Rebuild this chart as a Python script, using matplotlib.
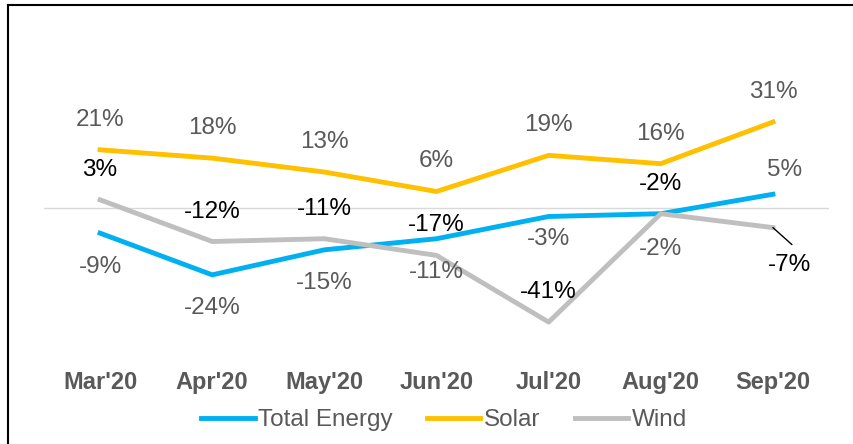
import matplotlib
matplotlib.use('Agg')
import matplotlib.pyplot as plt
from matplotlib.lines import Line2D

plt.rcParams['font.family'] = ['Liberation Sans', 'DejaVu Sans']

months = ["Mar'20", "Apr'20", "May'20", "Jun'20", "Jul'20", "Aug'20", "Sep'20"]
total_energy = [-9, -24, -15, -11, -3, -2, 5]
solar = [21, 18, 13, 6, 19, 16, 31]
wind = [3, -12, -11, -17, -41, -2, -7]

BLUE = '#00B0F0'
GOLD = '#FFC000'
GREY = '#BFBFBF'
TEXT = '#595959'

fig = plt.figure(figsize=(8.54, 4.44), dpi=100)
ax = fig.add_axes([44 / 854, 83 / 444, 785 / 854, 264 / 444])

x = range(len(months))
ax.axhline(0, color='#D9D9D9', lw=1, zorder=0)
ax.plot(x, total_energy, color=BLUE, lw=3.5, label='Total Energy')
ax.plot(x, solar, color=GOLD, lw=3.5, label='Solar')
ax.plot(x, wind, color=GREY, lw=3.5, label='Wind')

ax.set_xlim(-0.5, len(months) - 0.5)
ax.set_ylim(-55, 40)
ax.set_yticks([])
ax.set_xticks(list(x))
ax.set_xticklabels(months, fontsize=17, fontweight='bold', color=TEXT)
ax.tick_params(axis='x', length=0, pad=7)
for s in ax.spines.values():
    s.set_visible(False)

# data labels (offsets in pixels)
fs = 17.5
for i, v in enumerate(solar):
    ax.annotate(f'{v}%', (i, v), xytext=(0, 30), textcoords='offset pixels',
                ha='center', va='center', fontsize=fs, color=TEXT)

blue_off = [(0, -34), (0, -33), (0, -33), (0, -33), (0, -23), (0, -35), (12, 24)]
for i, v in enumerate(total_energy):
    dx, dy = blue_off[i]
    ax.annotate(f'{v}%', (i, v), xytext=(dx, dy), textcoords='offset pixels',
                ha='center', va='center', fontsize=fs, color=TEXT)

for i, v in enumerate(wind[:-1]):
    ax.annotate(f'{v}%', (i, v), xytext=(0, 30), textcoords='offset pixels',
                ha='center', va='center', fontsize=fs, color='black')

# last wind label sits below, with a leader line
last = len(wind) - 1
ax.annotate(f'{wind[last]}%', (last, wind[last]), xytext=(17, -37), textcoords='offset pixels',
            ha='center', va='center', fontsize=fs, color='black')
ax.annotate('', xy=(last, wind[last]), xytext=(19, -17), textcoords='offset pixels',
            arrowprops=dict(arrowstyle='-', color='black', lw=1, shrinkA=0, shrinkB=0))

fig.legend(loc='center', bbox_to_anchor=(0.52, 0.054), ncol=3, frameon=False,
           fontsize=17.5, labelcolor=TEXT, handlelength=2.2, handletextpad=0.15,
           columnspacing=1.4)

# outer frame (left and top edges only)
fig.add_artist(Line2D([8 / 854, 8 / 854], [0, 1 - 5 / 444], transform=fig.transFigure,
                      color='black', lw=1.5))
fig.add_artist(Line2D([8 / 854, 1], [1 - 5 / 444, 1 - 5 / 444], transform=fig.transFigure,
                      color='black', lw=1.5))

fig.savefig('out.png', dpi=100)
